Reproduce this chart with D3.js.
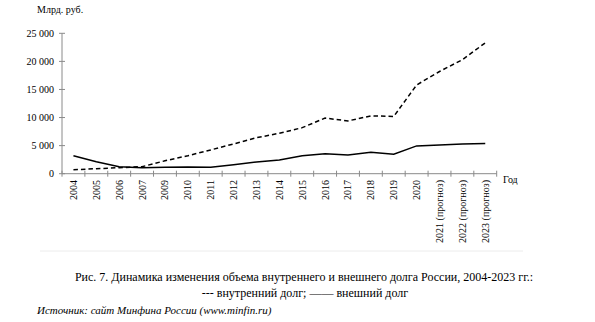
<!DOCTYPE html>
<html><head><meta charset="utf-8">
<script src="https://cdn.jsdelivr.net/npm/d3@7"></script>
<style>body{margin:0;background:#fff}svg{display:block}text{font-family:"Liberation Serif","Times New Roman",serif}</style>
</head><body><svg id="c" width="595" height="322"></svg>
<script>
const categories = ["2004","2005","2006","2007","2009","2010","2011","2012","2013","2014","2015","2016","2017","2018","2019","2020","2021 (прогноз)","2022 (прогноз)","2023 (прогноз)"];
const internalDebt = [710, 890, 1070, 1250, 2300, 3200, 4230, 5300, 6400, 7200, 8200, 9900, 9400, 10300, 10200, 15800, 18200, 20300, 23300];
const externalDebt = [3200, 2140, 1250, 1070, 1140, 1200, 1140, 1600, 2090, 2450, 3210, 3570, 3340, 3820, 3460, 4950, 5120, 5300, 5360];
const yTicks = [0, 5000, 10000, 15000, 20000, 25000];
const yUnit = "Млрд. руб.";
const xUnit = "Год";
const caption1 = "Рис. 7. Динамика изменения объема внутреннего и внешнего долга России, 2004-2023 гг.:";
const caption2 = "--- внутренний долг; —— внешний долг";
const source = "Источник: сайт Минфина России (www.minfin.ru)";

const svg = d3.select("#c");
const x = d3.scaleBand().domain(categories).range([62, 496.7]);
const y = d3.scaleLinear().domain([0, 25000]).range([173.7, 33.3]);
const fmt = v => d3.format(",")(v).replace(/,/g, " ");
const axisCol = "#8a8a8a";

svg.append("line").attr("x1", 40).attr("x2", 523).attr("y1", 251).attr("y2", 251).attr("stroke", "#ececec");

// y axis
const ya = svg.append("g");
ya.append("line").attr("x1", 62).attr("x2", 62).attr("y1", y(25000)).attr("y2", y(0)).attr("stroke", axisCol);
yTicks.forEach(t => {
  ya.append("line").attr("x1", 59).attr("x2", 65).attr("y1", y(t)).attr("y2", y(t)).attr("stroke", axisCol);
  ya.append("text").attr("x", 54).attr("y", y(t)).attr("dy", "0.35em").attr("text-anchor", "end")
    .attr("font-size", 10).attr("fill", "#000").text(fmt(t));
});
svg.append("text").attr("x", 37).attr("y", 13).attr("font-size", 10).text(yUnit);

// x axis
const xa = svg.append("g");
xa.append("line").attr("x1", 62).attr("x2", 496.7).attr("y1", y(0)).attr("y2", y(0)).attr("stroke", axisCol);
const bounds = categories.map(c => x(c)).concat([x.range()[1]]);
bounds.forEach(b => xa.append("line").attr("x1", b).attr("x2", b).attr("y1", y(0) - 3).attr("y2", y(0) + 3).attr("stroke", axisCol));
categories.forEach(c => {
  const cx = x(c) + x.bandwidth() / 2;
  xa.append("text").attr("transform", `translate(${cx + 3.5},180) rotate(-90)`)
    .attr("text-anchor", "end").attr("font-size", 10).text(c);
});
svg.append("text").attr("x", 503).attr("y", 183).attr("font-size", 10).text(xUnit);

const line = d3.line().x((d, i) => x(categories[i]) + x.bandwidth() / 2).y(d => y(d));
svg.append("path").datum(internalDebt).attr("d", line).attr("fill", "none").attr("stroke", "#000")
  .attr("stroke-width", 1.5).attr("stroke-dasharray", "4.5,3");
svg.append("path").datum(externalDebt).attr("d", line).attr("fill", "none").attr("stroke", "#000")
  .attr("stroke-width", 1.5);

svg.append("text").attr("x", 304).attr("y", 281).attr("text-anchor", "middle").attr("font-size", 12).text(caption1);
svg.append("text").attr("x", 305).attr("y", 297).attr("text-anchor", "middle").attr("font-size", 12).text(caption2);
svg.append("text").attr("x", 37).attr("y", 314).attr("font-size", 11).attr("font-style", "italic").text(source);
</script></body></html>
